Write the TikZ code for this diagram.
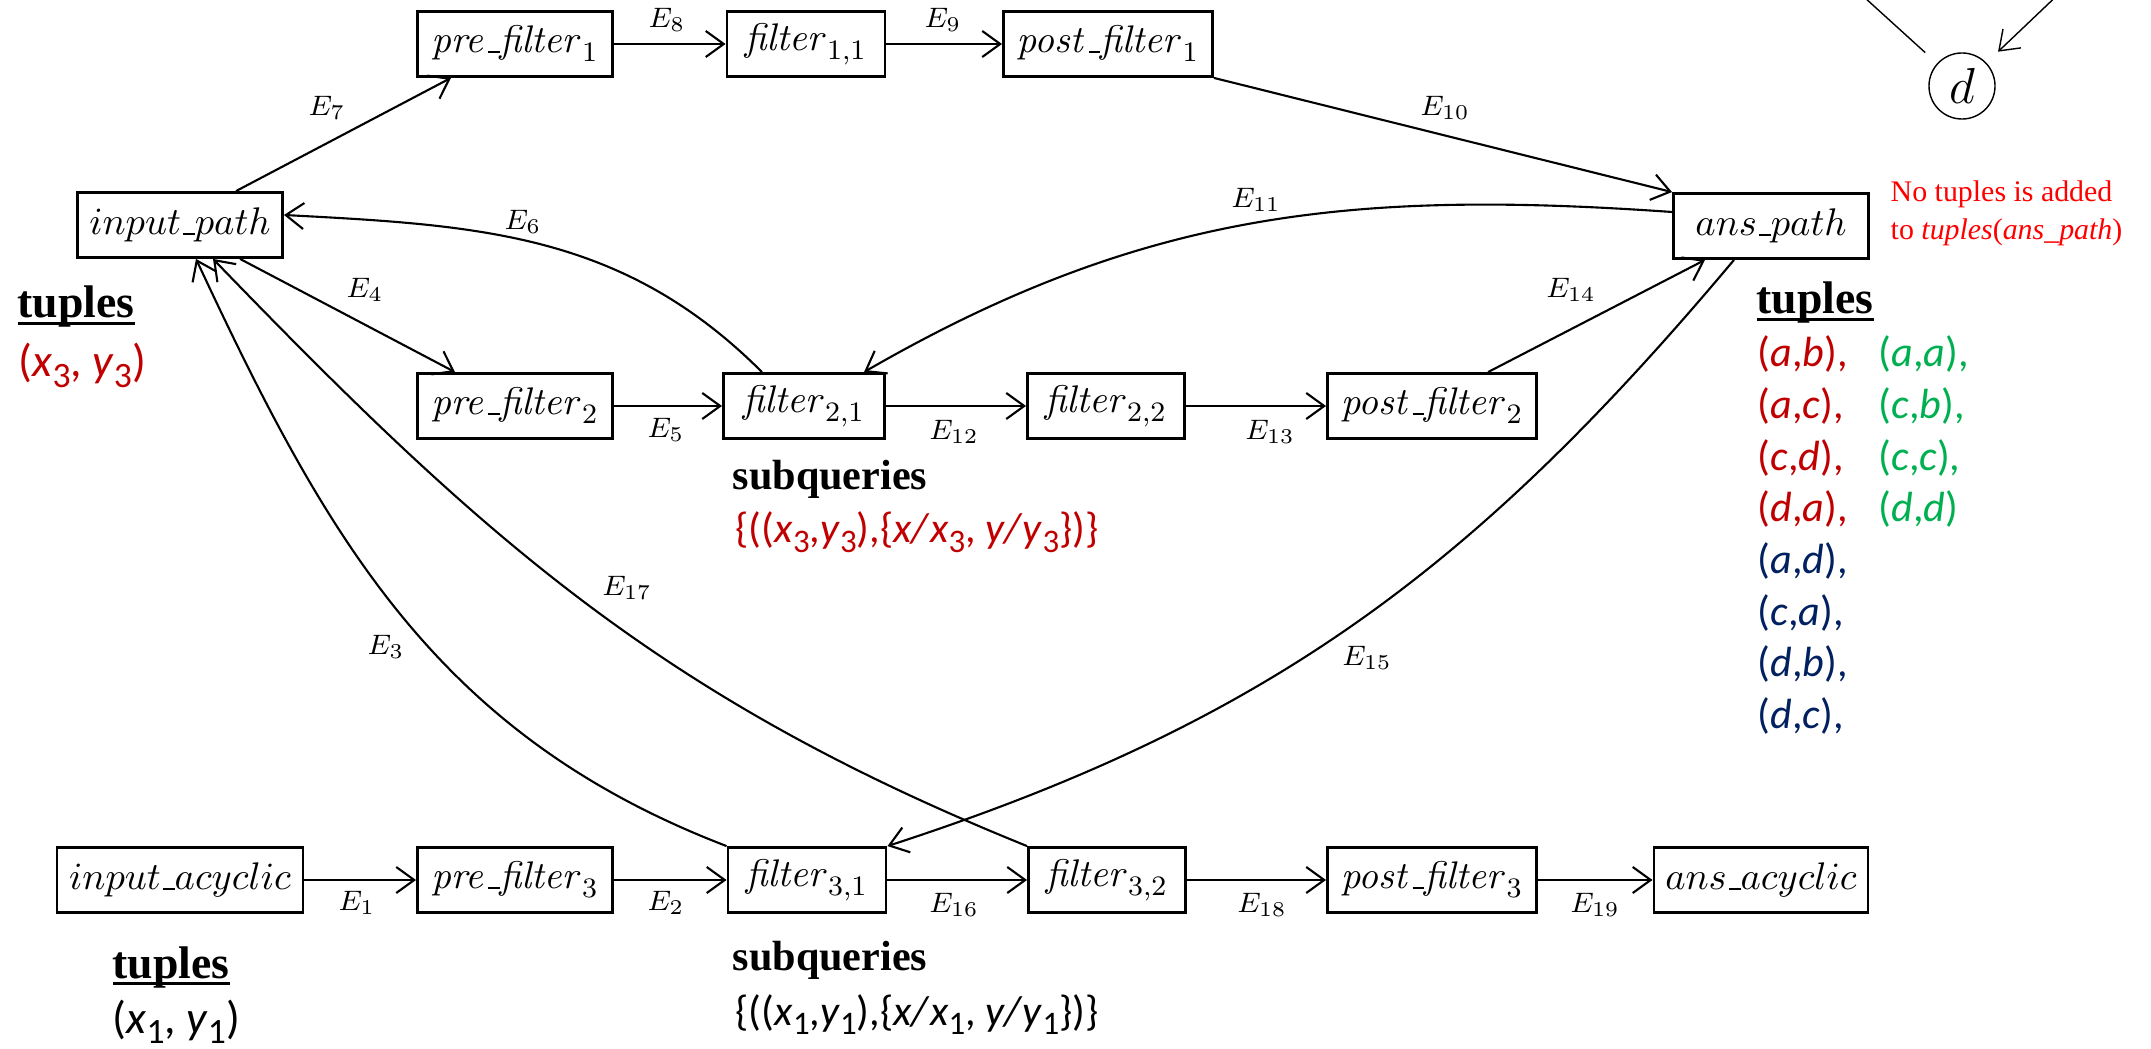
\documentclass[tikz,border=0pt]{standalone}
\usepackage[no-math]{fontspec}
\newfontfamily\timesfont{Liberation Serif}
\newfontfamily\califont{Carlito}
\usetikzlibrary{arrows.meta}
\definecolor{tupred}{HTML}{C00000}
\definecolor{tupblue}{HTML}{002060}
\definecolor{tupgreen}{HTML}{00B050}
\definecolor{notered}{HTML}{FF0000}
\newcommand\vsub[2]{\textit{#1}\raisebox{-0.22em}{\scalebox{0.78}{#2}}}
\newcommand\ulhead[1]{\setbox0\hbox{#1}\rlap{\rule[-2pt]{\wd0}{0.9pt}}\box0}
\newcommand\usc{\leavevmode\kern.06em\vbox{\hrule width.3em}}
\tikzset{
	opbox/.style={
			draw=black,
			thick,
			rectangle,
			minimum height=6.5mm,
			inner xsep=1mm,
			inner ysep=0.5mm,
			font=\fontsize{10.95}{13}\selectfont
		},
	flow/.style={
			semithick,
			-{Straight Barb[length=1.8mm,width=2.6mm]}
		},
	elabel/.style={
			inner sep=0pt,
			font=\footnotesize
		},
	headtext/.style={
			inner sep=0pt,
			anchor=base west,
			font=\timesfont\fontsize{13}{15}\selectfont\bfseries
		},
	subhead/.style={
			headtext,
			font=\timesfont\fontsize{12}{14}\selectfont\bfseries
		},
	tupletext/.style={
			inner sep=0pt,
			anchor=base west,
			font=\califont\fontsize{12}{14}\selectfont
		},
	valtext/.style={
			tupletext,
			font=\califont\fontsize{13}{15}\selectfont
		},
	notetext/.style={
			inner sep=0pt,
			anchor=base west,
			text=notered,
			font=\timesfont\fontsize{8.5}{10}\selectfont
		}
}

\begin{document}
\begin{tikzpicture}[x=0.01cm, y=0.01cm]
\useasboundingbox (0,0) rectangle (2151,-1049);

% top path
\node[opbox, minimum width=19.5mm] (pre1) at (515,-44) {$\mathit{pre\usc filter}_1$};
\node[opbox, minimum width=15.8mm] (f11) at (806,-44) {$\mathit{filter}_{1,1}$};
\node[opbox, minimum width=20.9mm] (post1) at (1108,-44) {$\mathit{post\usc filter}_1$};
\node[opbox, minimum width=20.5mm] (inpath) at (180,-225) {$input\usc path$};
\node[opbox, minimum width=19.5mm] (anspath) at (1771,-226) {$ans\usc path$};
% middle path
\node[opbox, minimum width=19.5mm] (pre2) at (515,-406) {$\mathit{pre\usc filter}_2$};
\node[opbox, minimum width=16.1mm] (f21) at (804,-406) {$\mathit{filter}_{2,1}$};
\node[opbox, minimum width=15.7mm] (f22) at (1106,-406) {$\mathit{filter}_{2,2}$};
\node[opbox, minimum width=20.9mm] (post2) at (1432,-406) {$\mathit{post\usc filter}_2$};
% acyclic path
\node[opbox, minimum width=24.6mm] (inacyc) at (180,-880) {$input\usc acyclic$};
\node[opbox, minimum width=19.5mm] (pre3) at (515,-880) {$\mathit{pre\usc filter}_3$};
\node[opbox, minimum width=15.8mm] (f31) at (807,-880) {$\mathit{filter}_{3,1}$};
\node[opbox, minimum width=15.7mm] (f32) at (1107,-880) {$\mathit{filter}_{3,2}$};
\node[opbox, minimum width=20.9mm] (post3) at (1432,-880) {$\mathit{post\usc filter}_3$};
\node[opbox, minimum width=21.4mm] (ansacyc) at (1761,-880) {$ans\usc acyclic$};

\draw[flow] (pre1) -- (f11);
\draw[flow] (f11) -- (post1);
\draw[flow] (post1.south east) -- (anspath.north west);
\draw[flow] ([xshift=5.6mm]inpath.north) -- ([xshift=-6.4mm]pre1.south);
\draw[flow] ([xshift=6mm]inpath.south) -- ([xshift=-6mm]pre2.north);
\draw[flow] (pre2) -- (f21);
\draw[flow] (f21) -- (f22);
\draw[flow] (f22) -- (post2);
\draw[flow] ([xshift=5.6mm]post2.north) -- ([xshift=-6.6mm]anspath.south);
\draw[flow] ([xshift=-4.2mm]f21.north) to[out=135, in=-3] ([yshift=1mm]inpath.east);
\draw[flow] ([yshift=1.4mm]anspath.west) to[out=176, in=30] ([xshift=6mm]f21.north);
\draw[flow] ([xshift=-3.7mm]anspath.south) to[out=-130, in=18] (f31.north east);
\draw[flow] (f31.north west) to[out=159, in=-65] ([xshift=1.6mm]inpath.south);
\draw[flow] (f32.north west) to[out=158, in=-46] ([xshift=3.3mm]inpath.south);
\draw[flow] (inacyc) -- (pre3);
\draw[flow] (pre3) -- (f31);
\draw[flow] (f31) -- (f32);
\draw[flow] (f32) -- (post3);
\draw[flow] (post3) -- (ansacyc);

% edge names
\foreach \n/\px/\py in {1/357/903, 2/666/903, 3/386/647, 4/365/290, 5/666/430,
    6/523/222, 7/327/108, 8/667/20, 9/943/20, 10/1445/108, 11/1256/200,
    12/954/432, 13/1270/432, 14/1571/290, 15/1367/658, 16/954/905,
    17/627/588, 18/1262/905, 19/1595/905}
  \node[elabel] (lE\n) at (\px,-\py) {$E_{\n}$};

% data graph (partly shown)
\node[circle, draw, thin, minimum size=6.6mm, inner sep=0pt,
  font=\fontsize{14.4}{16}\selectfont] (dnode) at (1962,-86) {$d$};
\coordinate (offa) at (1810,52);
\coordinate (offb) at (2107,52);
\draw[thin, shorten <=1.6mm] (dnode) -- (offa);
\draw[flow, thin, shorten >=1.6mm] (offb) -- (dnode);

% tuples and subqueries
\node[headtext] (tupin) at (17,-318) {\ulhead{tuples}};
\node[valtext, text=tupred] (valin) at (18,-377) {(\vsub{x}{3}, \vsub{y}{3})};
\node[headtext] (tupacyc) at (112,-978) {\ulhead{tuples}};
\node[valtext] (valacyc) at (112,-1033) {(\vsub{x}{1}, \vsub{y}{1})};
\node[subhead] (subq2) at (732,-490) {subqueries};
\node[tupletext, text=tupred] (subv2) at (735,-543)
  {\{((\vsub{x}{3},\vsub{y}{3}),\{\textit{x/}\vsub{x}{3}, \textit{y/}\vsub{y}{3}\})\}};
\node[subhead] (subq3) at (732,-970) {subqueries};
\node[tupletext] (subv3) at (735,-1025)
  {\{((\vsub{x}{1},\vsub{y}{1}),\{\textit{x/}\vsub{x}{1}, \textit{y/}\vsub{y}{1}\})\}};

\node[headtext] (tupans) at (1756,-314) {\ulhead{tuples}};
\foreach \col/\p/\q [count=\i from 0] in {tupred/a/b, tupred/a/c, tupred/c/d,
    tupred/d/a, tupblue/a/d, tupblue/c/a, tupblue/d/b, tupblue/d/c}
  \node[tupletext, text=\col] (rowa\i) at (1757,{-367-51.6*\i}) {(\textit{\p},\textit{\q}),};
\foreach \p/\q/\s [count=\i from 0] in {a/a/{,}, c/b/{,}, c/c/{,}, d/d/{}}
  \node[tupletext, text=tupgreen] (rowb\i) at (1878,{-367-51.6*\i}) {(\textit{\p},\textit{\q})\s};

\node[notetext] (note1) at (1890,-202) {No tuples is added};
\node[notetext] (note2) at (1890,-240) {to \textit{tuples}(\textit{ans\_path})};

\end{tikzpicture}
\end{document}
